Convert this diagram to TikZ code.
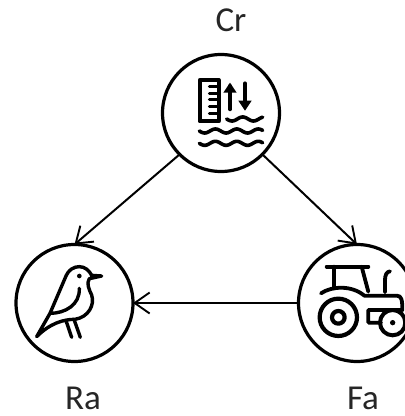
\documentclass[tikz,border=0pt]{standalone}
\usepackage{fontspec}
\setmainfont{Carlito}
\usetikzlibrary{arrows.meta}
\tikzset{
  hub/.style={circle,draw=black,line width=3.2pt,minimum size=117pt,inner sep=0pt,outer sep=0pt},
  lab/.style={font=\fontsize{35}{37}\selectfont,text=black!85,inner sep=0pt},
  link/.style={draw=black,line width=2pt,-{Straight Barb[length=15pt,width=21pt,line width=1.9pt]}},
  ico/.style={draw=black,line width=3.4pt,line cap=round,line join=round},
  wave/.style={draw=black,line width=3.6pt,line cap=round}
}
\begin{document}
\begin{tikzpicture}[x=1pt,y=-1pt]
\useasboundingbox (0,0) rectangle (405,416);
\node[hub] (cr) at (221,113) {};
\node[hub] (ra) at (74.5,303) {};
\node[hub] (fa) at (357,303) {};
\node[lab] (crl) at (231,20) {Cr};
\node[lab] (ral) at (83,398.5) {Ra};
\node[lab] (fal) at (363,398.5) {Fa};
\draw[link] (cr.225) -- (ra.north);
\draw[link] (cr.315) -- (fa.north);
\draw[link] (fa.west) -- (ra.east);
% level icon
\begin{scope}[shift={(150,50)},x=0.3333pt,y=-0.3333pt]
\draw[ico,line width=3.8pt] (149,90) rectangle (206,214);
\foreach \yy in {110,130,150,170,190}{\draw[ico,line width=3pt] (178,\yy) -- (206,\yy);}
\draw[ico,line width=3.8pt] (240,178) -- (240,108);
\fill (220,128) -- (240,98) -- (260,128) -- cycle;
\draw[ico,line width=3.8pt] (285,100) -- (285,170);
\fill (265,152) -- (285,182) -- (305,152) -- cycle;
\draw[wave] plot[domain=230:338,samples=50] (\x,{207+6*sin((\x-230)*5.6)});
\draw[wave] plot[domain=148:338,samples=70] (\x,{243+6*sin((\x-148)*5.6)});
\draw[wave] plot[domain=148:338,samples=70] (\x,{280+6*sin((\x-148)*5.6)});
\end{scope}
% bird icon
\begin{scope}[shift={(0,230)},x=0.3333pt,y=-0.3333pt]
\draw[ico] (110,320) -- (150,250) -- (195,145) .. controls (205,118) and (222,110) .. (238,110)
  .. controls (255,110) and (268,122) .. (275,136) -- (305,138) -- (268,146)
  .. controls (258,160) and (268,180) .. (275,195)
  .. controls (285,225) and (265,262) .. (225,268)
  .. controls (190,268) and (150,280) .. (110,320) -- cycle;
\draw[ico] (150,250) .. controls (195,250) and (240,225) .. (238,175);
\fill (238,138) circle[radius=7];
\draw[ico] (198,272) -- (215,322);
\draw[ico] (222,268) -- (241,322);
\end{scope}
% tractor icon
\begin{scope}[shift={(285,230)},x=0.3333pt,y=-0.3333pt]
\draw[ico,line width=3.8pt] (125,110) -- (250,110);
\draw[ico,line width=3.8pt] (148,110) -- (148,172);
\draw[ico,line width=3.8pt] (230,110) -- (250,185);
\draw[ico,line width=3.8pt] (108,190) .. controls (140,168) and (200,165) .. (238,197)
  -- (335,197) .. controls (350,197) and (352,210) .. (352,240) -- (250,240) -- (250,278) -- (288,278);
\draw[ico,line width=3.8pt] (300,187) -- (300,150) .. controls (300,135) and (305,125) .. (315,124);
\draw[ico,line width=4.2pt] (160,262) circle[radius=56];
\draw[ico,line width=4.2pt] (160,262) circle[radius=19];
\draw[ico,line width=4pt] (323,278) circle[radius=38];
\fill (323,278) circle[radius=8];
\end{scope}
\end{tikzpicture}
\end{document}
